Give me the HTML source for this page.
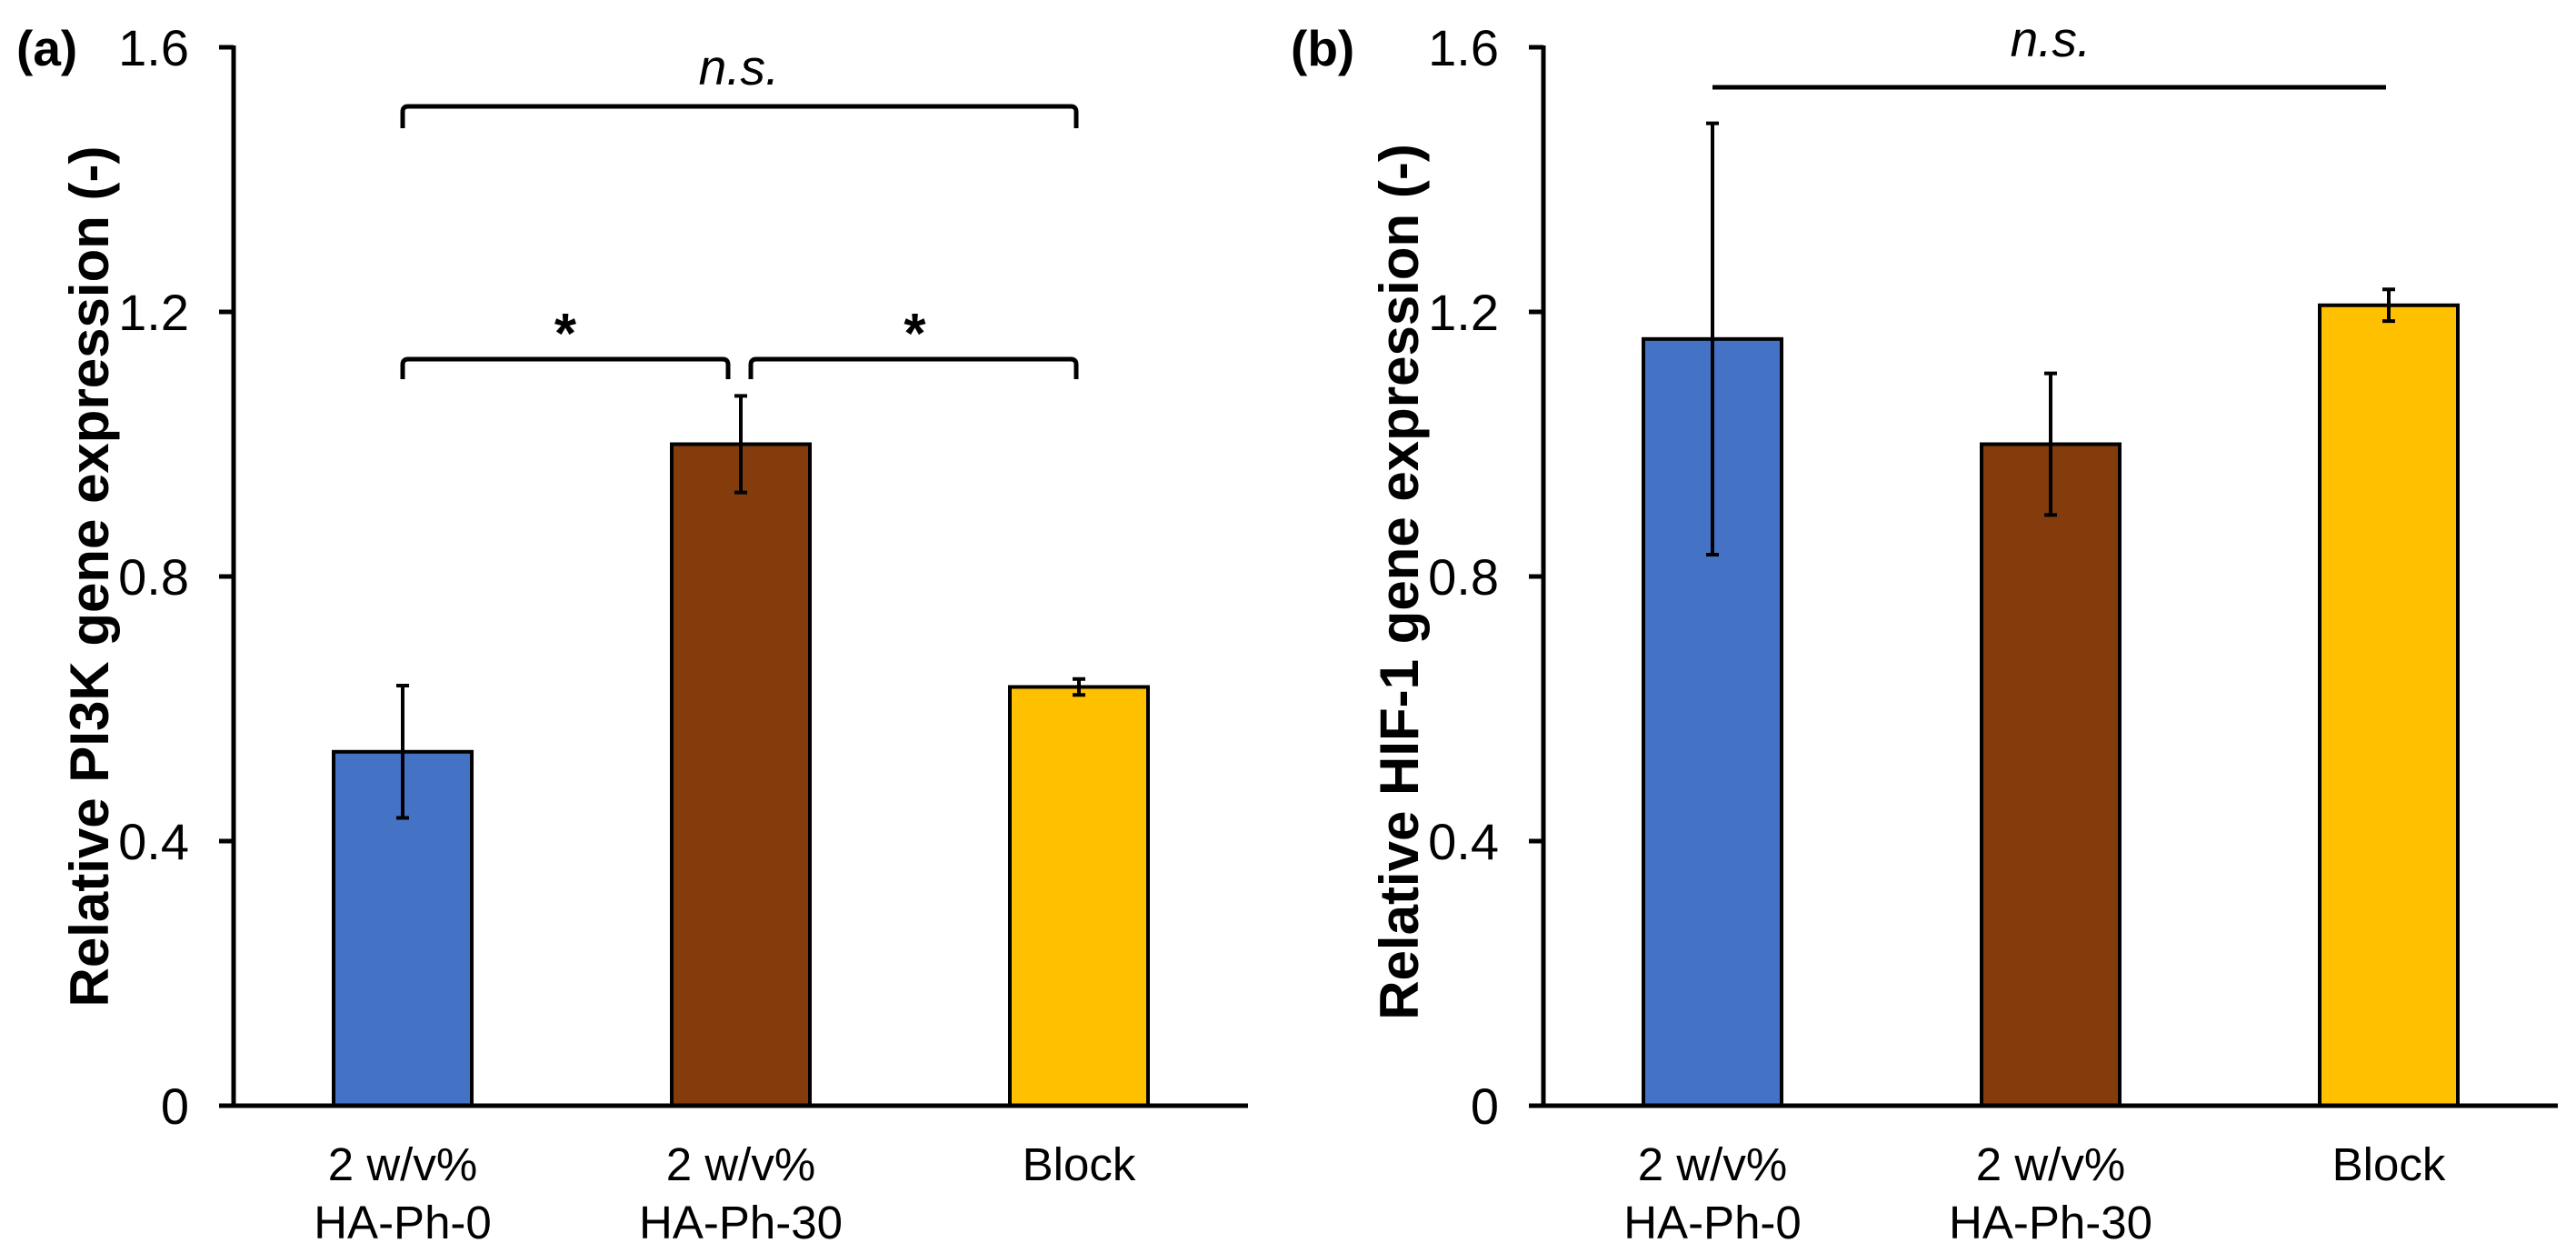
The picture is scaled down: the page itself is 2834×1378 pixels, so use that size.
<!DOCTYPE html>
<html><head><meta charset="utf-8"><style>
html,body{margin:0;padding:0;background:#fff;}
svg{display:block;font-family:"Liberation Sans",Arial,sans-serif;}
</style></head><body>
<svg id="chart" width="2834" height="1378" viewBox="0 0 2834 1378"></svg>
<script>
const categories = ["2 w/v%|HA-Ph-0", "2 w/v%|HA-Ph-30", "Block"];
const pi3kValues = [0.535, 1.0, 0.633];
const pi3kErrors = [0.1, 0.073, 0.012];
const hif1Values = [1.159, 1.0, 1.21];
const hif1Errors = [0.326, 0.107, 0.024];
const tickValues = [0, 0.4, 0.8, 1.2, 1.6];
const tickLabels = ["0", "0.4", "0.8", "1.2", "1.6"];
const barColors = ["#4472C4", "#843C0C", "#FFC000"];

const NS = "http://www.w3.org/2000/svg";
const svg = document.getElementById("chart");
function mk(tag, attrs, parent, text) {
  const e = document.createElementNS(NS, tag);
  for (const k in attrs) e.setAttribute(k, attrs[k]);
  if (text !== undefined) e.textContent = text;
  (parent || svg).appendChild(e);
  return e;
}
const Y0 = 1216, YTOP = 52, YMAX = 1.6;
function yScale(v) { return Y0 - (v / YMAX) * (Y0 - YTOP); }
const CAT_W = 372;

function panel(opts) {
  const g = mk("g", {});
  
  
  const ax = opts.axisX;
  function xCenter(i) { return ax + CAT_W * (i + 0.5); }

  const lab = mk("text", {x: opts.labelX, y: 72, "font-size": 55, "font-weight": "bold"}, g, opts.label);
  
  

  const yt = mk("text", {x: 0, y: 0, "font-size": 60, "font-weight": "bold", "text-anchor": "middle",
    transform: `translate(${opts.titleX},${opts.titleY}) rotate(-90)`}, g, opts.title);
  
  

  for (let i = 0; i < categories.length; i++) {
    const v = opts.values[i], e = opts.errors[i];
    const cx = xCenter(i);
    const bw = 152;
    const r = mk("rect", {x: cx - bw / 2, y: yScale(v), width: bw, height: Y0 - yScale(v),
      fill: barColors[i], stroke: "#000", "stroke-width": 4}, g);
    
    
    const eb = mk("path", {d: `M${cx},${yScale(v + e)}V${yScale(v - e)}M${cx - 7},${yScale(v + e)}H${cx + 7}M${cx - 7},${yScale(v - e)}H${cx + 7}`,
      stroke: "#000", "stroke-width": 4, fill: "none"}, g);
    
    
    const parts = categories[i].split("|");
    const xl = mk("text", {x: cx, y: 1298, "font-size": 51, "text-anchor": "middle"}, g);
    
    
    parts.forEach((p, k) => mk("tspan", {x: cx, y: 1298 + k * 64}, xl, p));
  }

  const yAxis = mk("line", {x1: ax, y1: YTOP - 2, x2: ax, y2: Y0 + 2, stroke: "#000", "stroke-width": 5}, g);
  
  
  const xAxis = mk("line", {x1: ax - 16, y1: Y0, x2: ax + CAT_W * 3, y2: Y0, stroke: "#000", "stroke-width": 5}, g);
  
  
  tickValues.forEach((t, i) => {
    const y = yScale(t);
    const tk = mk("line", {x1: ax - 16, y1: y, x2: ax, y2: y, stroke: "#000", "stroke-width": 5}, g);
    
    
    const tl = mk("text", {x: ax - 49, y: y + 20, "font-size": 56, "text-anchor": "end"}, g, tickLabels[i]);
    
    
  });
  opts.extras(g, xCenter);
}

function bracket(g, x1, x2, y, drop, name) {
  const p = mk("path", {d: `M${x1},${y + drop}V${y + 6}Q${x1},${y} ${x1 + 6},${y}H${x2 - 6}Q${x2},${y} ${x2},${y + 6}V${y + drop}`,
    stroke: "#000", "stroke-width": 5, fill: "none"}, g);
  
  
}
function sigText(g, x, y, t, italic, name) {
  const s = mk("text", {x: x, y: y, "font-size": italic ? 55 : 62, "text-anchor": "middle",
    "font-style": italic ? "italic" : "normal", "font-weight": italic ? "normal" : "bold"}, g, t);
  
  
}

panel({name: "panel-a-pi3k", label: "(a)", labelX: 18, axisX: 257,
  title: "Relative PI3K gene expression (-)", titleX: 119, titleY: 634,
  values: pi3kValues, errors: pi3kErrors,
  extras: (g, xc) => {
    bracket(g, xc(0), xc(2) - 3, 117, 24, "ns-bracket");
    sigText(g, (xc(0) + xc(2)) / 2 - 2, 93, "n.s.", true, "ns-label");
    bracket(g, xc(0), xc(1) - 14, 395, 22, "sig-bracket-left");
    bracket(g, xc(1) + 11, xc(2) - 3, 395, 22, "sig-bracket-right");
    sigText(g, (xc(0) + xc(1) - 14) / 2, 388, "*", false, "sig-star-left");
    sigText(g, (xc(1) + 11 + xc(2)) / 2, 388, "*", false, "sig-star-right");
  }});

panel({name: "panel-b-hif1", label: "(b)", labelX: 1420, axisX: 1698,
  title: "Relative HIF-1 gene expression (-)", titleX: 1560, titleY: 640,
  values: hif1Values, errors: hif1Errors,
  extras: (g, xc) => {
    const l = mk("line", {x1: xc(0), y1: 96, x2: xc(2) - 3, y2: 96, stroke: "#000", "stroke-width": 5}, g);
    
    
    sigText(g, (xc(0) + xc(2)) / 2, 62, "n.s.", true, "ns-label");
  }});
</script>
</body></html>
